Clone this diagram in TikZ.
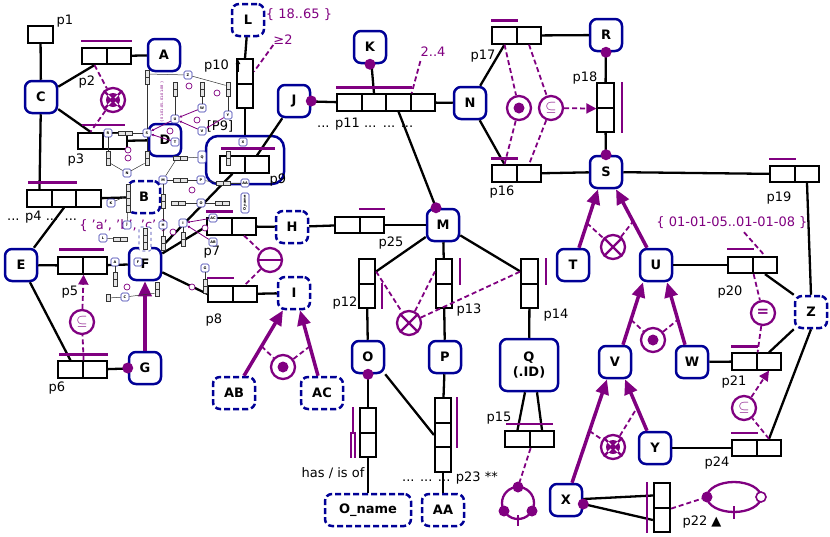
\documentclass[tikz,border=0pt]{standalone}
\usepackage{fontspec}
\setmainfont{DejaVu Sans}
\usetikzlibrary{arrows.meta}
\definecolor{purp}{RGB}{128,0,128}
\definecolor{navy}{RGB}{0,0,150}
\tikzset{ent/.style = {draw=navy, line width=2.5pt, rounded corners=7pt, minimum width=32pt, minimum height=32pt, inner sep=2pt, fill=white, font=\bfseries\fontsize{13}{15}\selectfont}}
\tikzset{vent/.style = {ent, dash pattern=on 6pt off 3pt}}
\tikzset{role/.style = {draw, line width=1.7pt, minimum width=24.5pt, minimum height=16.5pt, inner sep=0pt, fill=white}}
\tikzset{vrole/.style = {role, minimum width=16.5pt, minimum height=24.5pt}}
\tikzset{objbox/.style = {draw=navy, line width=2.5pt, rounded corners=12pt, minimum width=78pt, minimum height=48pt}}
\tikzset{link/.style = {line width=2.3pt}}
\tikzset{ubar/.style = {purp, line width=2.2pt}}
\tikzset{lbl/.style = {inner sep=0pt, font=\fontsize{13}{15}\selectfont}}
\tikzset{con/.style = {circle, draw=purp, line width=2.3pt, minimum size=24pt, inner sep=0pt, fill=white, text=purp, font=\bfseries\fontsize{15}{15}\selectfont}}
\tikzset{cline/.style = {purp, line width=1.8pt, dash pattern=on 5pt off 3pt}}
\tikzset{sub/.style = {purp, line width=3.5pt, -{Triangle[length=15pt,width=13pt]}}}
% thumbnail styles
\tikzset{mini/.style = {draw=navy!80, line width=0.6pt, rounded corners=1.5pt, minimum size=8pt, inner sep=0.6pt, fill=white, font=\bfseries\fontsize{3.5}{4}\selectfont}}
\tikzset{mrole/.style = {draw=black!80, line width=0.5pt, minimum width=4.5pt, minimum height=7pt, inner sep=0pt, fill=black!10}}
\tikzset{mhrole/.style = {mrole, minimum width=7pt, minimum height=4.5pt}}
\tikzset{mlink/.style = {black!80, line width=0.5pt}}
\tikzset{mcon/.style = {circle, draw=purp, line width=0.7pt, minimum size=6pt, inner sep=0pt, fill=white}}

\newcommand{\hpred}[4]{\foreach \r in {1,...,#4} \node[role] (#1-\r) at ({#2+24.5*(\r-1)},#3) {};}
\newcommand{\vpred}[4]{\foreach \r in {1,...,#4} \node[vrole] (#1-\r) at (#2,{#3+24.5*(\r-1)}) {};}
\newcommand{\xmark}[1]{\draw[purp, line width=2.3pt] (#1.45) -- (#1.225) (#1.135) -- (#1.315);}
\newcommand{\dotmark}[1]{\fill[purp] (#1) circle (5.5pt);}
\newcommand{\ringmark}[1]{\xmark{#1}\fill[purp] (#1) circle (7pt);
  \draw[white, line width=1.4pt] ([shift={(45:7pt)}]#1.center) -- ([shift={(225:7pt)}]#1.center) ([shift={(135:7pt)}]#1.center) -- ([shift={(315:7pt)}]#1.center);
  \fill[purp] (#1) circle (3pt);}

\begin{document}
\begin{tikzpicture}[x=1pt, y=-1pt]
\useasboundingbox (0,0) rectangle (830,536);

% objectified fact type
\node[objbox] (P9) at (245,160) {};
\node[lbl] (lP9) at (220,126) {[P9]};

% entity types
\node[ent] (A) at (164,55) {A};
\node[ent] (C) at (41,97) {C};
\node[ent] (D) at (165,140) {D};
\node[vent] (B) at (144,197) {B};
\node[ent] (E) at (21,265) {E};
\node[ent] (F) at (145,264) {F};
\node[ent] (G) at (145,368) {G};
\node[vent] (H) at (292,227) {H};
\node[vent] (I) at (294,293) {I};
\node[vent, minimum width=42pt] (AB) at (234,393) {AB};
\node[vent, minimum width=42pt] (AC) at (322,393) {AC};
\node[vent] (L) at (248,20) {L};
\node[ent] (J) at (294,101) {J};
\node[ent] (K) at (370,47) {K};
\node[ent] (N) at (470,103) {N};
\node[ent] (R) at (606,35) {R};
\node[ent] (S) at (606,172) {S};
\node[ent] (M) at (443,225) {M};
\node[ent] (O) at (368,357) {O};
\node[ent] (P) at (445,357) {P};
\node[ent, minimum width=58pt, minimum height=52pt, align=center] (Q) at (529,365) {Q\\(.ID)};
\node[vent, minimum width=86pt] (Oname) at (368,510) {O\_name};
\node[vent, minimum width=42pt] (AA) at (443,510) {AA};
\node[ent] (T) at (573,265) {T};
\node[ent] (U) at (656,265) {U};
\node[ent] (V) at (615,362) {V};
\node[ent] (W) at (692,362) {W};
\node[ent] (Y) at (655,448) {Y};
\node[ent] (X) at (566,500) {X};
\node[vent] (Z) at (811,312) {Z};

% fact types
\node[role] (p1) at (40.5,34.5) {};
\hpred{p2}{94.5}{56}{2}
\hpred{p3}{90.5}{141}{2}
\hpred{p4}{39.5}{198.5}{3}
\hpred{p5}{70.5}{265.5}{2}
\hpred{p6}{70.5}{369.5}{2}
\hpred{p7}{219.5}{226.5}{2}
\hpred{p8}{220.5}{294}{2}
\hpred{p9}{232.5}{164.5}{2}
\hpred{p11}{349.5}{102.5}{4}
\hpred{p15}{517.5}{439}{2}
\hpred{p16}{504.5}{173.5}{2}
\hpred{p17}{504.5}{35.5}{2}
\hpred{p19}{782.5}{174}{2}
\hpred{p20}{740.5}{265}{2}
\hpred{p21}{744.5}{361.5}{2}
\hpred{p24}{744.5}{448}{2}
\hpred{p25}{347.5}{225}{2}
\vpred{p10}{245}{71.5}{2}
\vpred{p12}{367}{271.5}{2}
\vpred{p13}{444}{271.5}{2}
\vpred{p14}{529.5}{271.5}{2}
\vpred{p18}{605.5}{95.5}{2}
\vpred{p22}{662}{495.5}{2}
\vpred{p23}{443}{410.5}{3}
\vpred{pO}{368}{420.5}{2}

% fact type names
\node[lbl] (lp1) at (65,21) {p1};
\node[lbl] (lp2) at (87,82) {p2};
\node[lbl] (lp3) at (76,160) {p3};
\node[lbl, anchor=west] (lp4) at (7,217) {... p4 ...\enspace ...};
\node[lbl] (lp5) at (70,292) {p5};
\node[lbl] (lp6) at (57,388) {p6};
\node[lbl] (lp7) at (212,252) {p7};
\node[lbl] (lp8) at (214,320) {p8};
\node[lbl] (lp9) at (278,180) {p9};
\node[lbl, anchor=east] (lp10) at (229,66) {p10};
\node[lbl, anchor=west] (lp11) at (317,124) {... p11 ...\enspace ... ...};
\node[lbl] (lp12) at (345,303) {p12};
\node[lbl] (lp13) at (469,310) {p13};
\node[lbl] (lp14) at (556,315) {p14};
\node[lbl] (lp15) at (499,418) {p15};
\node[lbl] (lp16) at (502,192) {p16};
\node[lbl] (lp17) at (483,56) {p17};
\node[lbl] (lp18) at (585,78) {p18};
\node[lbl] (lp19) at (779,198) {p19};
\node[lbl] (lp20) at (730,292) {p20};
\node[lbl] (lp21) at (734,382) {p21};
\node[lbl] (lp22) at (702,522) {p22 ▲};
\node[lbl] (lp23) at (450,478) {... ... ... p23 **};
\node[lbl] (lp24) at (717,463) {p24};
\node[lbl] (lp25) at (391,243) {p25};
\node[lbl] (lpO) at (333,473) {has / is of};
\draw[-{Latex[length=5pt,width=5pt]}, line width=1.3pt] (238,72) -- (238,59);

% role links
\draw[link] (p1) -- (C);
\draw[link] (C) -- (p2-1.south);
\draw[link] (C) -- (p3-1.north);
\draw[link] (p2-2) -- (A);
\draw[link] (p3-2) -- (D);
\draw[link] (C) -- (p4-1.north);
\draw[link] (E) -- (p4-2.south);
\draw[link] (p4-3) -- (B);
\draw[link] (E) -- (p5-1);
\draw[link] (p5-2) -- (F);
\draw[link] (E) -- (p6-1.north);
\draw[link] (p6-2) -- (G);
\draw[link] (F) -- (p7-1.west);
\draw[link] (F) -- (p8-1.west);
\draw[link] (F) -- (p9-1.south);
\draw[link] (J) -- (p9-2.north);
\draw[link] (p7-2) -- (H);
\draw[link] (p8-2) -- (I);
\draw[link] (H) -- (p25-1);
\draw[link] (p25-2) -- (M);
\draw[link] (L) -- (p10-1.north);
\draw[link] (p10-2.south) -- (P9.north);
\draw[link] (K) -- (p11-2.north);
\draw[link] (J) -- (p11-1);
\draw[link] (p11-4) -- (N);
\draw[link] (p11-3.south) -- ([xshift=-7pt]M.north);
\draw[link] (N) -- (p17-1.south);
\draw[link] (N) -- (p16-1.north);
\draw[link] (p17-2) -- (R);
\draw[link] (p16-2) -- (S);
\draw[link] (R) -- (p18-1);
\draw[link] (p18-2) -- (S);
\draw[link] (S) -- (p19-1);
\draw[link] (p19-2.south) -- (Z.north);
\draw[link] (U) -- (p20-1);
\draw[link] (p20-2.south) -- (Z.north west);
\draw[link] (W) -- (p21-1);
\draw[link] (p21-2.north) -- (Z.south west);
\draw[link] (Y) -- (p24-1);
\draw[link] (p24-2.north) -- (Z.south);
\draw[link] (M) -- (p12-1.east);
\draw[link] (M) -- (p13-1);
\draw[link] (M) -- (p14-1.west);
\draw[link] (p12-2) -- (O);
\draw[link] (p13-2) -- (P);
\draw[link] (p14-2) -- (Q);
\draw[link] (O) -- (pO-1);
\draw[link] (pO-2) -- (Oname);
\draw[link] (O.south east) -- (p23-2.west);
\draw[link] (P) -- (p23-1);
\draw[link] (p23-3) -- (AA);
\draw[link] ([xshift=-4pt]Q.south) -- (p15-1.north);
\draw[link] ([xshift=8pt]Q.south) -- (p15-2.north);
\draw[link] ([yshift=1pt]X.east) -- (p22-1.west);
\draw[link] ([yshift=-4pt]X.east) -- (p22-2.west);

% mandatory dots
\foreach \d in {J.east, K.south, R.south, S.north, G.west, O.south} \fill[purp] (\d) circle (5.5pt);
\fill[purp] ([xshift=-7pt]M.north) circle (5.5pt);
\fill[purp] ([yshift=-4pt]X.east) circle (5.5pt);

% uniqueness bars
\draw[ubar] ([yshift=6pt]p2-1.north west) -- ([yshift=6pt]p2-2.north east);
\draw[ubar] ([xshift=5pt,yshift=7pt]p3-1.north west) -- ([xshift=-3pt,yshift=7pt]p3-2.north east);
\draw[ubar] ([xshift=2pt,yshift=7pt]p4-1.north west) -- ([yshift=7pt]p4-2.north east);
\draw[ubar] ([xshift=2pt,yshift=7pt]p5-1.north west) -- ([xshift=-4pt,yshift=7pt]p5-2.north east);
\draw[ubar] ([xshift=2pt,yshift=6pt]p6-1.north west) -- ([yshift=6pt]p6-2.north east);
\draw[ubar] ([yshift=6pt]p7-1.north west) -- ([yshift=6pt]p7-1.north east);
\draw[ubar] ([yshift=7pt]p8-1.north west) -- ([yshift=7pt]p8-1.north east);
\draw[ubar] ([xshift=2pt,yshift=7pt]p9-1.north west) -- ([xshift=5pt,yshift=7pt]p9-2.north east);
\draw[ubar] ([yshift=6pt]p11-1.north west) -- ([yshift=6pt]p11-3.north east);
\draw[ubar] ([xshift=2pt,yshift=6pt]p15-1.north west) -- ([xshift=-2pt,yshift=6pt]p15-2.north east);
\draw[ubar] ([yshift=6pt]p16-1.north west) -- ([yshift=6pt]p16-1.north east);
\draw[ubar] ([yshift=6pt]p17-1.north west) -- ([yshift=6pt]p17-1.north east);
\draw[ubar] ([yshift=6pt]p19-1.north west) -- ([yshift=6pt]p19-1.north east);
\draw[ubar] ([yshift=7pt]p20-1.north west) -- ([yshift=7pt]p20-1.north east);
\draw[ubar] ([yshift=6pt]p21-1.north west) -- ([yshift=6pt]p21-1.north east);
\draw[ubar] ([yshift=6pt]p24-1.north west) -- ([yshift=6pt]p24-1.north east);
\draw[ubar] ([yshift=7pt]p25-2.north west) -- ([yshift=7pt]p25-2.north east);
\draw[ubar] ([xshift=7pt]p18-1.north east) -- ([xshift=7pt]p18-2.south east);
\draw[ubar] ([xshift=6pt]p12-2.north east) -- ([xshift=6pt]p12-2.south east);
\draw[ubar] ([xshift=7pt]p13-1.north east) -- ([xshift=7pt]p13-1.south east);
\draw[ubar] ([xshift=7pt]p14-1.north east) -- ([xshift=7pt]p14-1.south east);
\draw[ubar] ([xshift=5pt]p23-1.north east) -- ([xshift=5pt]p23-2.south east);
\draw[ubar] ([xshift=-6pt]p22-1.north west) -- ([xshift=-6pt]p22-2.south west);
\draw[ubar] ([xshift=-6pt]pO-1.north west) -- ([xshift=-6pt]pO-1.south west);
\draw[ubar] ([xshift=-4pt]pO-2.north west) -- ([xshift=-4pt]pO-2.south west);
\draw[ubar] ([xshift=-8pt]pO-2.north west) -- ([xshift=-8pt]pO-2.south west);

% subtype connections
\draw[sub] (G) -- (F);
\path ([xshift=10pt]AB.north) -- ([xshift=-11pt]I.south) coordinate[pos=0.45] (abI);
\draw[sub] ([xshift=10pt]AB.north) -- ([xshift=-11pt]I.south);
\path ([xshift=-4pt]AC.north) -- ([xshift=6pt]I.south) coordinate[pos=0.45] (acI);
\draw[sub] ([xshift=-4pt]AC.north) -- ([xshift=6pt]I.south);
\path ([xshift=6pt]T.north) -- ([xshift=-8pt]S.south) coordinate[pos=0.42] (tS);
\draw[sub] ([xshift=6pt]T.north) -- ([xshift=-8pt]S.south);
\path ([xshift=-9pt]U.north) -- ([xshift=10pt]S.south) coordinate[pos=0.45] (uS);
\draw[sub] ([xshift=-9pt]U.north) -- ([xshift=10pt]S.south);
\path ([xshift=8pt]V.north) -- ([xshift=-13pt]U.south) coordinate[pos=0.4] (vU);
\draw[sub] ([xshift=8pt]V.north) -- ([xshift=-13pt]U.south);
\path ([xshift=-7pt]W.north) -- ([xshift=11pt]U.south) coordinate[pos=0.4] (wU);
\draw[sub] ([xshift=-7pt]W.north) -- ([xshift=11pt]U.south);
\path ([xshift=6pt]X.north) -- ([xshift=-8pt]V.south) coordinate[pos=0.5] (xV);
\draw[sub] ([xshift=6pt]X.north) -- ([xshift=-8pt]V.south);
\path ([xshift=-8pt]Y.north) -- ([xshift=10pt]V.south) coordinate[pos=0.45] (yV);
\draw[sub] ([xshift=-8pt]Y.north) -- ([xshift=10pt]V.south);

% constraints
\node[con] (ringC) at (113,100) {};
\draw[cline] (p2-1.south) -- (ringC) -- (p3-1.north);
\ringmark{ringC}
\node[con] (subE) at (82,322) {$\subseteq$};
\draw[cline] (p6-1.north east) -- (subE);
\draw[cline, -{Triangle[length=10pt,width=10pt]}] (subE) -- (p5-1.south east);
\node[con] (xuH) at (270,260) {};
\draw[cline] (p7-2.south) -- (xuH) -- (p8-2.north);
\draw[purp, line width=2.3pt] (xuH.west) -- (xuH.east);
\node[con] (dotI) at (283,367) {};
\draw[cline] (abI) -- (dotI) -- (acI);
\dotmark{dotI}
\node[con] (xorM) at (409,323) {};
\draw[cline] (p12-1.east) -- (xorM) -- (p13-1.west);
\draw[cline] (xorM) -- (p14-1.west);
\xmark{xorM}
\node[con] (dotN) at (519,108) {};
\draw[cline] (p17-1.south) -- (dotN) -- (p16-1.north);
\dotmark{dotN}
\node[con] (subR) at (551,108) {$\subseteq$};
\draw[cline] (p17-2.south) -- (subR) -- (p16-2.north);
\draw[cline, -{Triangle[length=10pt,width=10pt]}] (subR) -- (p18-1.south west);
\node[con] (xorS) at (613,247) {};
\draw[cline] (tS) -- (xorS) -- (uS);
\xmark{xorS}
\node[con] (eqZ) at (763,313) {=};
\draw[cline] (p20-1.south east) -- (eqZ) -- (p21-1.north east);
\node[con] (dotU) at (653,340) {};
\draw[cline] (vU) -- (dotU) -- (wU);
\dotmark{dotU}
\node[con] (ringV) at (613,447) {};
\draw[cline] (xV) -- (ringV) -- (yV);
\ringmark{ringV}
\node[con] (subZ) at (744,408) {$\subseteq$};
\draw[cline] (p24-2.north) -- (subZ);
\draw[cline, -{Triangle[length=10pt,width=10pt]}] (subZ) -- (p21-2.south);

% ring constraints
\draw[purp, line width=2.3pt] (734,497) ellipse (27pt and 15pt);
\coordinate (acycL) at (707,497);
\coordinate (acycR) at (761,497);
\draw[cline] (p22-1.south east) -- (acycL);
\fill[purp] (acycL) circle (5.5pt);
\draw[purp, line width=1.6pt, fill=white] (acycR) circle (5pt);
\draw[purp, line width=2.3pt] (734,506) -- (734,519);
\draw[purp, line width=2.3pt] (518,503) circle (16pt);
\coordinate (ringQt) at (518,487);
\draw[cline] (p15-1.south east) -- (ringQt);
\fill[purp] (ringQt) circle (5.5pt);
\fill[purp] (504,511) circle (5.5pt);
\fill[purp] (532,511) circle (5.5pt);
\draw[purp, line width=2.3pt] (518,515) -- (518,526);

% value and frequency constraints
\node[lbl, purp] (vL) at (299,15) {\{ 18..65 \}};
\node[lbl, purp] (fp10) at (283,40) {≥2};
\draw[cline] (fp10.south west) -- (p10-1.east);
\node[lbl, purp] (fp11) at (433,52) {2..4};
\draw[cline] ([yshift=-4pt]fp11.south west) -- (p11-3.north east);
\node[lbl, purp] (vp20) at (732,223) {\{ 01-01-05..01-01-08 \}};
\draw[cline] ([xshift=12pt,yshift=-3pt]vp20.south) -- (p20-2.north);
\node[lbl, purp] (vB) at (124,226) {\{ 'a', 'b', 'c' \}};

% thumbnail of the model
\foreach \n/\x/\y in {Z/188/75, W/202/108, U/175/119, Y/228/115, V/202/131, S/147/133, T/175/142, R/108/133, N/127/173, X/243/142, M/163/180, P/201/180, K/111/203, O/201/203, J/127/225, H/163/225, I/183/223, AC/213/218, AB/213/242, L/103/238, A/115/262, F/138/262, G/205/268, C/125/297, AA/245/183}
  \node[mini] (m\n) at (\x,\y) {\n};
\node[mini, minimum height=12pt] (mQ) at (202,157) {Q};
\node[mini, rotate=90, minimum width=20pt] (mOn) at (245,203) {O\_name};
\node[mini, dashed, minimum width=12pt, minimum height=24pt] (mB) at (145,239) {};
\foreach \n/\x/\y/\k in {18/147/74/2, 20/175/86/2, 21/202/86/2, 24/228/86/2, 17/108/155/2, 16/147/155/2, 15/228/155/2, 25/163/198/2, 11/128/188/4, 7/183/236/2, 9/163/240/2, 4/145/232/3, 5/115/276/2, 6/157/286/2, 8/205/283/2}
  {\foreach \r in {1,...,\k} \node[mrole] (mp\n-\r) at (\x,{\y+7*(\r-1)}) {};}
\foreach \n/\x/\y in {18h/122/133, 14/177/158, 13/177/180, 12/175/203, Ob/219/203, 10/117/239, 23/220/183}
  {\node[mhrole] (mp\n-1) at (\x,\y) {}; \node[mhrole] (mp\n-2) at ({\x+7},\y) {};}
\node[mrole] (mp1) at (108,298) {};
\foreach \a/\b in {Z/18-1, Z/24-1, U/20-2, W/21-2, Y/24-2, S/18h-2, R/18h-1, R/17-1, N/17-2, N/16-2, S/16-1, S/18-2, M/14-1, Q/14-2, M/13-1, P/13-2, M/25-1, H/25-2, K/11-2, O/12-2, O/Ob-1, AA/23-2, P/23-1, L/10-1, I/7-1, A/5-1, G/8-1, C/6-2, H/9-1, J/11-4, C/1}
  \draw[mlink] (m\a) -- (mp\b);
\foreach \a/\b in {U/S, T/S, W/U, V/U, AC/I, AB/I, Y/V}
  \draw[purp, line width=0.8pt, -{Triangle[length=2.5pt,width=2.5pt]}] (m\a) -- (m\b);
\foreach \x/\y [count=\i] in {189/86, 217/93, 197/120, 170/131, 128/150, 128/158, 192/190, 205/228, 173/232, 192/287, 127/287}
  \node[mcon] (mc\i) at (\x,\y) {};
\node[purp, rotate=90, inner sep=0pt, font=\fontsize{3.5}{4}\selectfont] (mv20) at (162,102) {\{ 01-01-05..01-01-08 \}};
\end{tikzpicture}
\end{document}
